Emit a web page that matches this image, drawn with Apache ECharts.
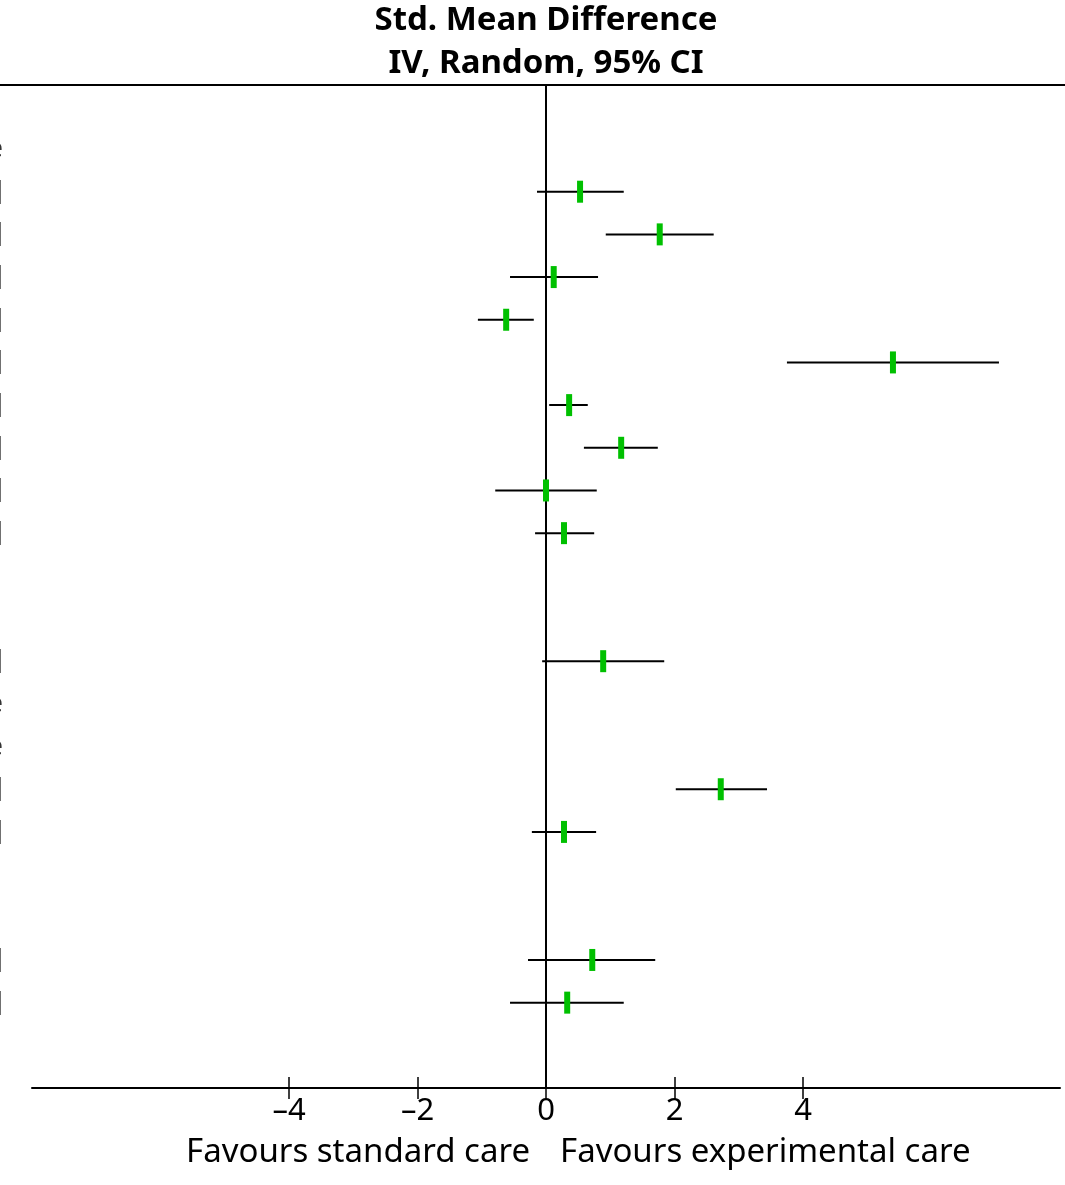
<!DOCTYPE html>
<html>
<head>
<meta charset="utf-8">
<script src="https://cdn.jsdelivr.net/npm/echarts@6/dist/echarts.min.js"></script>
<style>
  html, body { margin: 0; padding: 0; background: #fff; }
  #chart { width: 1065px; height: 1185px; }
</style>
</head>
<body>
<div id="chart"></div>
<script>
// forest plot rows (row index counted from the top of the plot)
const rows = [1, 2, 3, 4, 5, 6, 7, 8, 9, 12, 15, 16, 19, 20];
const smd = [0.53, 1.77, 0.12, -0.62, 5.40, 0.36, 1.17, 0.00, 0.28, 0.89, 2.72, 0.28, 0.72, 0.33];
const ciLow = [-0.14, 0.93, -0.56, -1.06, 3.75, 0.05, 0.59, -0.79, -0.17, -0.06, 2.02, -0.22, -0.28, -0.56];
const ciHigh = [1.21, 2.61, 0.81, -0.19, 7.05, 0.65, 1.74, 0.79, 0.75, 1.84, 3.44, 0.78, 1.70, 1.21];
// text rows of the (cut off) table on the left
const headerRows = [0, 13, 14];
const headerText = ['Pain score', 'Heterogeneity: Not applicable', 'Test for overall effect: Not applicable'];
const tickValues = [-4, -2, 0, 2, 4];

const FONT = 'Noto Sans';
const chart = echarts.init(document.getElementById('chart'));

const fmt = v => v.toFixed(2);
const studyData = rows.map((r, i) => [smd[i], r, ciLow[i], ciHigh[i]]);
const tableText = rows.map((r, i) => ({
  value: [-8, r],
  name: fmt(smd[i]) + ' [' + fmt(ciLow[i]) + ', ' + fmt(ciHigh[i]) + ']'
})).concat(headerRows.map((r, i) => ({ value: [-8, r], name: headerText[i] })));

const option = {
  animation: false,
  grid: { left: 32, right: 5, top: 85, bottom: 97 },
  xAxis: [{
    type: 'value',
    min: -8,
    max: 8,
    position: 'bottom',
    splitLine: { show: false },
    axisLine: { onZero: false, lineStyle: { color: '#000', width: 2 } },
    axisTick: { show: true, length: 11, customValues: tickValues, lineStyle: { color: '#000', width: 1.5 } },
    axisLabel: {
      customValues: tickValues,
      margin: 8,
      color: '#000',
      fontFamily: FONT,
      fontSize: 31,
      formatter: v => (v < 0 ? '\u2013' + Math.abs(v) : String(v))
    }
  }, {
    type: 'value',
    min: -8,
    max: 8,
    position: 'bottom',
    splitLine: { show: false },
    axisLine: { show: false, onZero: false },
    axisTick: { show: true, inside: true, length: 11, customValues: tickValues, lineStyle: { color: '#000', width: 1.5 } },
    axisLabel: { show: false }
  }],
  yAxis: {
    type: 'value',
    inverse: true,
    min: -1.5,
    max: 22,
    splitLine: { show: false },
    axisTick: { show: false },
    axisLabel: { show: false },
    axisLine: { show: true, onZero: true, onZeroAxisIndex: 0, lineStyle: { color: '#000', width: 2 } }
  },
  graphic: [
    { type: 'line', shape: { x1: 0, y1: 85, x2: 1065, y2: 85 }, style: { stroke: '#000', lineWidth: 2 } },
    {
      type: 'text', x: 546, y: 21,
      style: { text: 'Std. Mean Difference', fontFamily: FONT, fontWeight: 'bold', fontSize: 33, fill: '#000', align: 'center', verticalAlign: 'middle' }
    },
    {
      type: 'text', x: 546, y: 64,
      style: { text: 'IV, Random, 95% CI', fontFamily: FONT, fontWeight: 'bold', fontSize: 33, fill: '#000', align: 'center', verticalAlign: 'middle' }
    },
    {
      type: 'text', x: 530, y: 1153,
      style: { text: 'Favours standard care', fontFamily: FONT, fontSize: 33, fill: '#000', align: 'right', verticalAlign: 'middle' }
    },
    {
      type: 'text', x: 560, y: 1153,
      style: { text: 'Favours experimental care', fontFamily: FONT, fontSize: 33, fill: '#000', align: 'left', verticalAlign: 'middle' }
    }
  ],
  series: [{
    type: 'custom',
    xAxisIndex: 0,
    data: studyData,
    renderItem: function (params, api) {
      const y = api.value(1);
      const p = api.coord([api.value(0), y]);
      const lo = api.coord([api.value(2), y]);
      const hi = api.coord([api.value(3), y]);
      return {
        type: 'group',
        children: [{
          type: 'line',
          shape: { x1: lo[0], y1: p[1], x2: hi[0], y2: p[1] },
          style: { stroke: '#000', lineWidth: 2 }
        }, {
          type: 'rect',
          shape: { x: p[0] - 3, y: p[1] - 11, width: 6, height: 22 },
          style: { fill: '#00c000' }
        }]
      };
    }
  }, {
    type: 'scatter',
    xAxisIndex: 0,
    symbolSize: 0,
    data: tableText,
    label: {
      show: true,
      position: 'left',
      distance: 29,
      formatter: p => p.name,
      color: '#000',
      fontFamily: FONT,
      fontSize: 28
    }
  }]
};

chart.setOption(option);
</script>
</body>
</html>
